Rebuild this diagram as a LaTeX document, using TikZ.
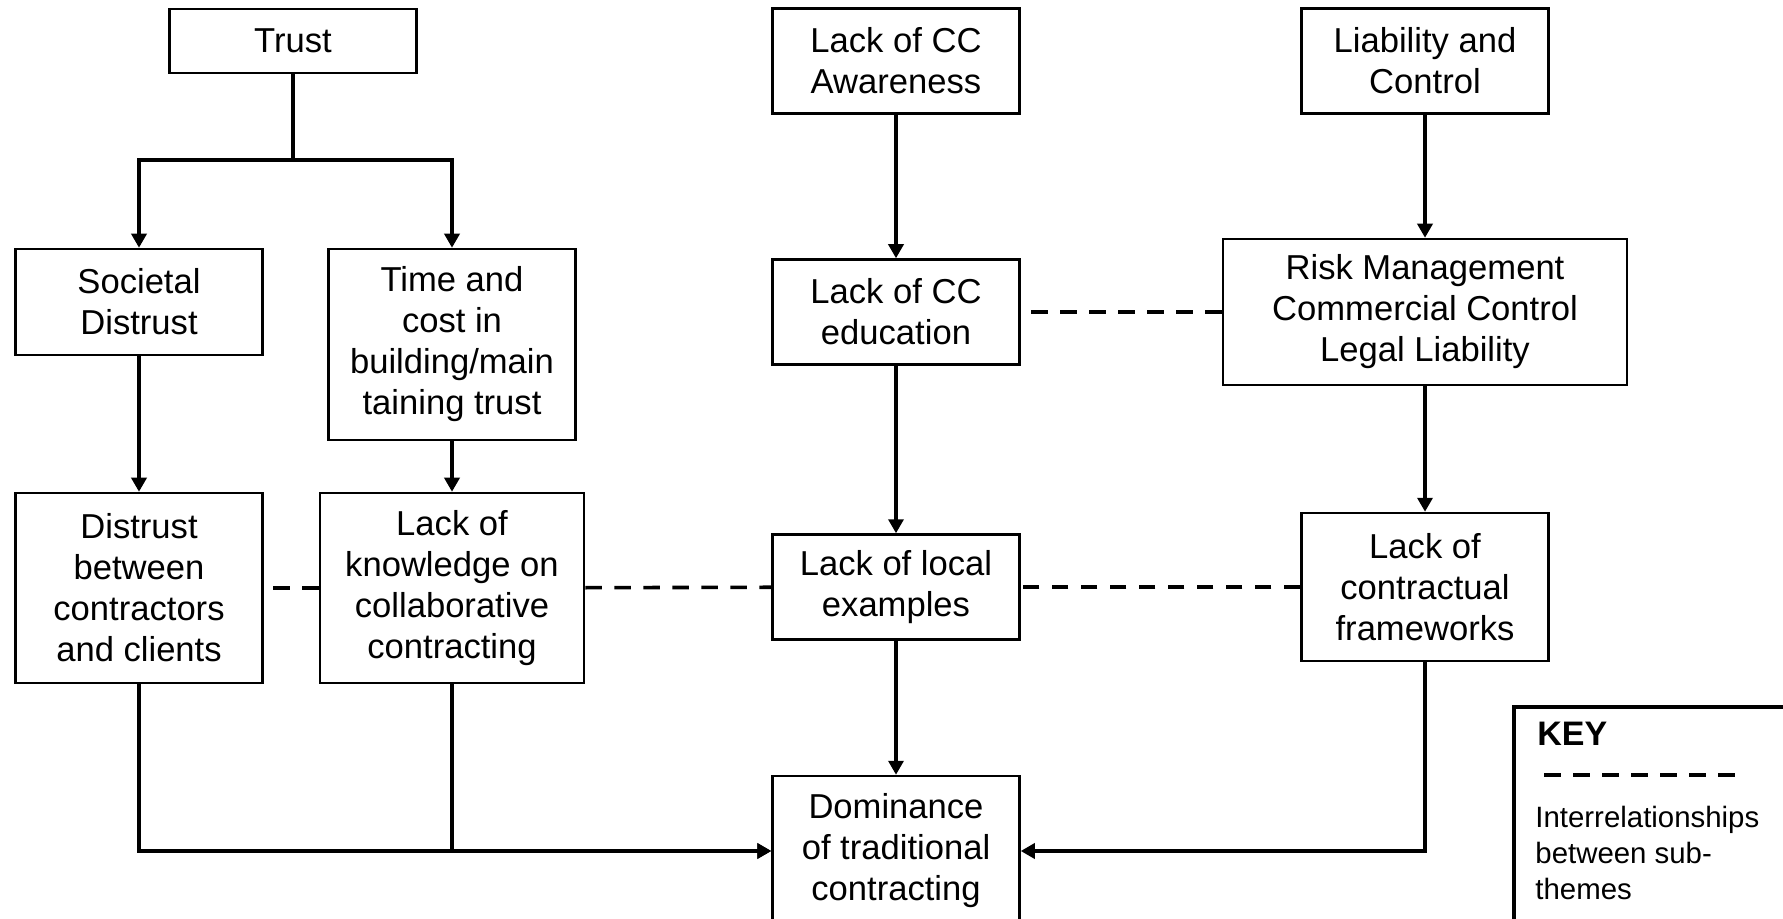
\documentclass[tikz,border=0pt]{standalone}
\usepackage{fontspec}
\setmainfont{Liberation Sans}
\usetikzlibrary{arrows.meta,positioning,calc}

\begin{document}
\begin{tikzpicture}[x=0.5pt,y=-0.5pt,font=\fontsize{17.3}{20.5}\selectfont,
    >={Triangle[length=7pt,width=7.5pt]},
    box/.style={draw,line width=1.25pt,align=center,inner sep=2pt,minimum width=123.5pt},
    arr/.style={->,line width=1.7pt},
    link/.style={line width=1.8pt,dash pattern=on 8.3pt off 6.2pt}]
  \clip (0,0) rectangle (1783,919);
  % trust column
  \node[box,minimum height=32pt] (trust) at (293,41) {Trust};
  \node[box,minimum height=53pt] (soc) at (139,302) {Societal\\Distrust};
  \node[box,minimum height=95.5pt] (time) at (452,344.5) {Time and\\cost in\\building/main\\taining trust};
  \node[box,minimum height=95pt] (dist) at (139,588) {Distrust\\between\\contractors\\and clients};
  \node[box,minimum width=132pt,minimum height=95pt] (know) at (452,588) {Lack of\\knowledge on\\collaborative\\contracting};
  % awareness column
  \node[box,minimum height=52.5pt] (aware) at (896,61) {Lack of CC\\Awareness};
  \node[box,minimum height=52.5pt] (edu) at (896,312) {Lack of CC\\education};
  \node[box,minimum height=52.5pt] (local) at (896,587) {Lack of local\\examples};
  \node[box,minimum height=75pt] (dom) at (896,851) {Dominance\\of traditional\\contracting};
  % liability column
  \node[box,minimum height=52.5pt] (liab) at (1425,61) {Liability and\\Control};
  \node[box,minimum width=202pt,minimum height=73pt] (risk) at (1425,312) {Risk Management\\Commercial Control\\Legal Liability};
  \node[box,minimum height=74pt] (contr) at (1425,587) {Lack of\\contractual\\frameworks};

  \coordinate (split) at (293,160);
  \draw[line width=1.7pt] (trust) -- (split);
  \draw[arr] (split) -| (soc);
  \draw[arr] (split) -| (time);
  \draw[arr] (soc) -- (dist);
  \draw[arr] (time) -- (know);
  \draw[arr] (dist) |- (dom);
  \draw[arr] (know) |- (dom);
  \draw[arr] (aware) -- (edu);
  \draw[arr] (edu) -- (local);
  \draw[arr] (local) -- (dom);
  \draw[arr] (liab) -- (risk);
  \draw[arr] (risk) -- (contr);
  \draw[arr] (contr) |- (dom);

  \draw[link] (know) -- (dist);
  \draw[link] (know) -- (local);
  \draw[link] (contr) -- (local);
  \draw[link] (risk) -- (edu);

  % key
  \draw[line width=1.6pt] (1514,707) rectangle (1820,960);
  \node[anchor=west,inner sep=0pt,font=\fontsize{17}{20}\selectfont\bfseries] (keyhead) at (1537,734) {KEY};
  \coordinate (keya) at (1544,775);
  \coordinate (keyb) at (1736,775);
  \draw[link] (keya) -- (keyb);
  \node[anchor=west,inner sep=0pt,align=left,font=\fontsize{14.7}{17.9}\selectfont] (keytext) at (1535,853) {Interrelationships\\between sub-\\themes};
\end{tikzpicture}
\end{document}
